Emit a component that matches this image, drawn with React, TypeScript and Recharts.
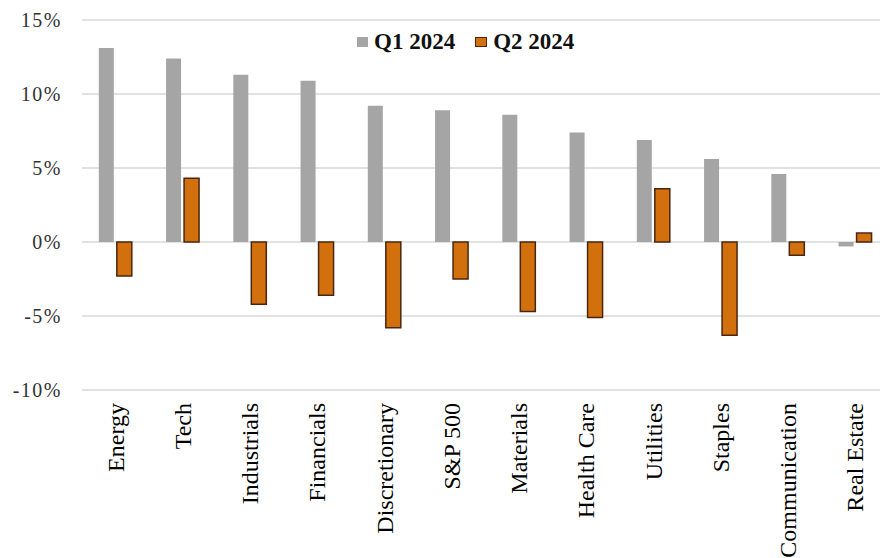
import { Bar, BarChart, CartesianGrid, Legend, XAxis, YAxis } from 'recharts';

const sectors = [
  'Energy',
  'Tech',
  'Industrials',
  'Financials',
  'Discretionary',
  'S&P 500',
  'Materials',
  'Health Care',
  'Utilities',
  'Staples',
  'Communication',
  'Real Estate',
];

const q1Returns = [13.1, 12.4, 11.3, 10.9, 9.2, 8.9, 8.6, 7.4, 6.9, 5.6, 4.6, -0.3];
const q2Returns = [-2.3, 4.3, -4.2, -3.6, -5.8, -2.5, -4.7, -5.1, 3.6, -6.3, -0.9, 0.6];

const yTicks = [-10, -5, 0, 5, 10, 15];

const data = sectors.map((name, i) => ({ name, q1: q1Returns[i], q2: q2Returns[i] }));

const Q1_FILL = '#a5a5a5';
const Q2_FILL = '#d2700e';
const Q2_EDGE = '#4a2612';
const SERIF = '"Liberation Serif", "Times New Roman", serif';

function SectorTick({ x, y, payload }: any) {
  return (
    <text
      transform={`translate(${x + 8},${y + 5}) rotate(-90)`}
      textAnchor="end"
      fontFamily={SERIF}
      fontSize={24}
      fill="#000"
    >
      {payload.value}
    </text>
  );
}

function LegendBox() {
  const item = (color: string, edge: string | null, label: string, gap: number) => (
    <div style={{ display: 'flex', alignItems: 'center', marginRight: gap }}>
      <span
        style={{
          display: 'inline-block',
          width: edge ? 10 : 11,
          height: edge ? 8 : 10,
          background: color,
          border: edge ? `1.5px solid ${edge}` : 'none',
          marginRight: 6,
        }}
      />
      <span>{label}</span>
    </div>
  );
  return (
    <div
      style={{
        display: 'flex',
        alignItems: 'center',
        fontFamily: SERIF,
        fontWeight: 'bold',
        fontSize: 23,
        lineHeight: '24px',
        color: '#111',
      }}
    >
      {item(Q1_FILL, null, 'Q1 2024', 20)}
      {item(Q2_FILL, Q2_EDGE, 'Q2 2024', 0)}
    </div>
  );
}

export default function App() {
  return (
    <div
      style={{
        position: 'fixed',
        left: 0,
        top: 0,
        width: 880,
        height: 558,
        overflow: 'hidden',
        background: '#fff',
      }}
    >
      <BarChart
        width={889}
        height={558}
        data={data}
        margin={{ top: 20, right: 0, left: 0, bottom: 0 }}
        barCategoryGap="25%"
        barGap={3}
      >
        <CartesianGrid vertical={false} stroke="#d9d9d9" strokeWidth={1.5} />
        <XAxis
          dataKey="name"
          height={168}
          interval={0}
          axisLine={false}
          tickLine={false}
          tick={<SectorTick />}
        />
        <YAxis
          width={82}
          domain={[-10, 15]}
          ticks={yTicks}
          axisLine={false}
          tickLine={false}
          tickMargin={14}
          tickFormatter={(v: number) => `${v}%`}
          tick={{ fontFamily: SERIF, fontSize: 20, fill: '#333', letterSpacing: 1.5 }}
        />
        <Legend
          verticalAlign="middle"
          align="center"
          content={() => <LegendBox />}
          wrapperStyle={{ position: 'absolute', top: 30, left: 357, width: 'auto' }}
        />
        <Bar dataKey="q1" name="Q1 2024" fill={Q1_FILL} isAnimationActive={false} />
        <Bar
          dataKey="q2"
          name="Q2 2024"
          fill={Q2_FILL}
          stroke={Q2_EDGE}
          strokeWidth={1.5}
          isAnimationActive={false}
        />
      </BarChart>
    </div>
  );
}
